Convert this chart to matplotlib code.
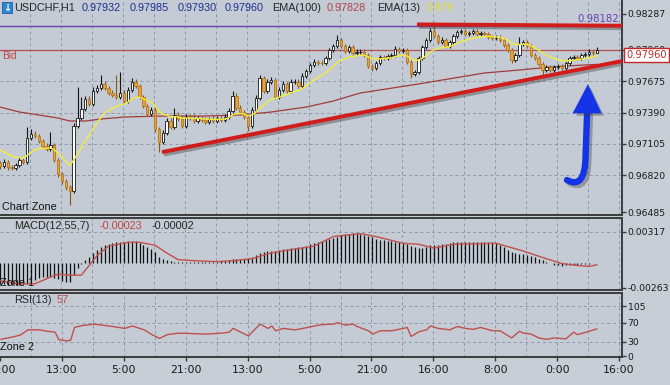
import numpy as np
import matplotlib
matplotlib.use("Agg")
import matplotlib.pyplot as plt
from matplotlib import font_manager
from matplotlib.patches import Rectangle, Polygon, PathPatch
from matplotlib.path import Path
import matplotlib.patheffects as pe
import matplotlib.transforms as mtransforms

# ---------------- data ----------------
symbol = "USDCHF,H1"
header_ohlc = ["0.97932", "0.97985", "0.97930", "0.97960"]
ema100_label = "0.97828"
ema13_label = "0.979"
macd_labels = ["-0.00023", "-0.00002"]
rsi_label = "57"

first_open = 0.96931
close = [
    0.96903, 0.96940, 0.96894, 0.96885, 0.96913, 0.96958, 0.96940, 0.97158, 0.97194, 0.97176,
    0.97131, 0.97085, 0.97058, 0.97094, 0.96958, 0.96831, 0.96767, 0.96712, 0.96676, 0.97268,
    0.97340, 0.97422, 0.97513, 0.97468, 0.97586, 0.97613, 0.97650, 0.97613, 0.97568, 0.97549,
    0.97531, 0.97568, 0.97495, 0.97595, 0.97668, 0.97631, 0.97531, 0.97449, 0.97377, 0.97413,
    0.97240, 0.97122, 0.97204, 0.97313, 0.97258, 0.97368, 0.97331, 0.97268, 0.97349, 0.97340,
    0.97313, 0.97340, 0.97322, 0.97304, 0.97331, 0.97313, 0.97340, 0.97322, 0.97349, 0.97404,
    0.97540, 0.97431, 0.97395, 0.97349, 0.97268, 0.97413, 0.97522, 0.97704, 0.97586, 0.97668,
    0.97686, 0.97531, 0.97595, 0.97650, 0.97586, 0.97668, 0.97672, 0.97631, 0.97722, 0.97768,
    0.97823, 0.97850, 0.97845, 0.97841, 0.97886, 0.97959, 0.97995, 0.98050, 0.97995, 0.97950,
    0.97986, 0.97932, 0.97941, 0.97945, 0.97913, 0.97813, 0.97795, 0.97841, 0.97895, 0.97890,
    0.97904, 0.97913, 0.97968, 0.97950, 0.97959, 0.97850, 0.97741, 0.97759, 0.97886, 0.97986,
    0.98050, 0.98132, 0.98086, 0.98032, 0.98050, 0.97995, 0.98032, 0.98086, 0.98123, 0.98132,
    0.98105, 0.98114, 0.98132, 0.98105, 0.98114, 0.98105, 0.98077, 0.98068, 0.98072, 0.98050,
    0.98005, 0.97959, 0.97868, 0.97913, 0.98014, 0.98032, 0.97995, 0.97913, 0.97886, 0.97832,
    0.97777, 0.97804, 0.97777, 0.97804, 0.97813, 0.97795, 0.97841, 0.97886, 0.97895, 0.97886,
    0.97913, 0.97923, 0.97941, 0.97932, 0.97960,
]
# wick lengths in pips (0.0001)
upper_wick = [
    2, 3, 2, 2, 2, 3, 2, 10, 5, 3,
    2, 2, 3, 12, 2, 2, 2, 2, 2, 3,
    28, 11, 3, 3, 4, 3, 8, 3, 2, 3,
    18, 19, 3, 3, 4, 3, 2, 2, 2, 3,
    3, 2, 3, 3, 3, 6, 3, 3, 3, 3,
    4, 2, 2, 3, 2, 4, 2, 2, 3, 3,
    5, 3, 3, 2, 2, 3, 3, 3, 2, 3,
    3, 2, 3, 3, 2, 3, 2, 2, 3, 2,
    2, 3, 2, 2, 2, 2, 2, 5, 2, 2,
    2, 2, 3, 2, 2, 2, 2, 2, 2, 2,
    2, 2, 3, 2, 2, 2, 2, 2, 2, 2,
    2, 3, 8, 2, 3, 2, 2, 2, 2, 2,
    2, 2, 2, 2, 2, 2, 2, 2, 2, 2,
    2, 2, 2, 2, 6, 2, 2, 2, 2, 2,
    2, 2, 2, 2, 2, 2, 2, 2, 2, 2,
    2, 2, 3, 2, 2.5,
]
lower_wick = [
    3, 2, 3, 2, 2, 2, 2, 2, 2, 2,
    2, 2, 2, 2, 2, 3, 3, 3, 13, 2,
    2, 2, 2, 2, 2, 2, 2, 2, 2, 2,
    2, 2, 2, 2, 2, 2, 2, 2, 2, 2,
    3, 9, 2, 2, 2, 2, 2, 2, 2, 2,
    2, 2, 2, 2, 2, 2, 2, 2, 2, 2,
    2, 2, 2, 2, 5, 2, 2, 2, 2, 2,
    2, 2, 2, 2, 2, 2, 2, 2, 2, 2,
    2, 2, 2, 2, 2, 2, 2, 2, 2, 2,
    2, 2, 2, 2, 2, 2, 3, 2, 2, 2,
    2, 2, 2, 2, 2, 2, 4, 2, 2, 2,
    2, 2, 2, 2, 2, 2, 2, 2, 2, 2,
    2, 2, 2, 2, 2, 2, 2, 2, 2, 2,
    2, 2, 3, 2, 2, 2, 2, 2, 2, 2,
    5, 2, 2, 2, 2, 2, 2, 2, 2, 2,
    2, 2, 2, 2, 0.2,
]
ema13_start = 0.97049
ema100_idx = [0, 5, 10, 15, 18, 22, 26, 32, 41, 52, 62, 70, 79, 86, 93, 108, 125, 134, 142, 151, 154]
ema100_val = [0.97440, 0.97395, 0.97368, 0.97340, 0.97313, 0.97313, 0.97331, 0.97349, 0.97358,
              0.97358, 0.97368, 0.97395, 0.97440, 0.97495, 0.97568, 0.97650, 0.97750, 0.97777,
              0.97804, 0.97823, 0.97828]
bid_price = 0.97960
hline_price = 0.98182
support_idx = [41.8, 160.5]
support_val = [0.97030, 0.97859]
resist_idx = [107.6, 160.5]
resist_val = [0.98192, 0.98180]

# MACD histogram (units of 0.0001)
macd_hist = [
    -22, -22, -23, -23, -23, -23, -22, -22, -21, -18,
    -16, -15, -15, -15, -16, -17, -19, -20, -20, -13,
    -6, -1, 3, 6, 10, 13, 16, 18, 19, 20,
    21, 21, 21, 22, 22, 22, 20, 18, 16, 14,
    11, 6, 4, 3, 2, 1, 1, 1, 1, 1,
    1, 1, 1, 1, 1, 1, 1, 2, 2, 3,
    4, 4, 4, 4, 5, 6, 8, 10, 11, 12,
    12, 12, 13, 14, 14, 15, 15, 16, 16, 17,
    19, 20, 21, 22, 23, 24, 25, 27, 29, 30,
    30, 31, 31, 30, 29, 28, 26, 24, 23, 23,
    22, 22, 21, 21, 20, 19, 17, 16, 15, 15,
    16, 18, 18, 18, 19, 19, 20, 21, 21, 21,
    21, 21, 21, 21, 21, 21, 21, 21, 20, 18,
    16, 13, 11, 10, 9, 9, 8, 7, 6, 4,
    3, 1, 0, -2, -3, -4, -3, -3, -2, -2,
    -1, -1, -1, 0, -0.2,
]
macd_sig_idx = [0, 5, 9, 13, 15, 18, 21, 22, 25, 28, 33, 36, 40, 43, 46, 50, 56, 60, 65, 70,
                76, 81, 86, 93, 97, 104, 108, 112, 117, 128, 135, 141, 145, 149, 152, 154]
macd_sig_val = [-19, -22, -22, -15, -12, -13, -13, -8, 7, 17, 21, 21, 18, 10, 3, 2, 1, 2, 4, 10,
                14, 17, 27, 30, 27, 20, 19, 15, 19, 20, 12, 4, -1, -3, -4, -2.3]

rsi_idx = [0, 3, 5, 7, 10, 12, 14, 15, 17, 18, 19, 21, 24, 26, 28, 32, 34, 37, 39, 41,
           43, 46, 50, 53, 57, 59, 60, 64, 65, 67, 69, 70, 71, 73, 76, 78, 81, 83, 86, 87,
           89, 91, 92, 95, 96, 98, 101, 104, 105, 106, 108, 110, 111, 113, 116, 118, 120, 122, 124, 127,
           129, 132, 134, 135, 137, 139, 141, 143, 146, 148, 149, 152, 154]
rsi_val = [35, 40, 44, 55, 55, 52, 50, 34, 32, 33, 60, 64, 67, 65, 63, 58, 63, 55, 45, 37,
           45, 48, 47, 46, 48, 50, 58, 42, 51, 67, 58, 63, 53, 58, 55, 58, 63, 66, 67, 70,
           65, 67, 62, 53, 46, 53, 53, 58, 60, 41, 51, 55, 63, 58, 55, 62, 58, 56, 60, 53,
           53, 38, 52, 48, 46, 38, 35, 38, 36, 50, 45, 52, 57]

main_ticks = [0.96485, 0.96820, 0.97105, 0.97390, 0.97675, 0.97960, 0.98287]
macd_ticks = [-0.00263, 0.00317]
rsi_ticks = [0, 30, 70, 105]
time_labels = ["21:00", "13:00", "5:00", "21:00", "13:00", "5:00", "21:00", "16:00", "8:00", "0:00", "16:00"]

# ---------------- style ----------------
names = {f.name for f in font_manager.fontManager.ttflist}
if "Liberation Sans Narrow" in names:
    NARROW, NSIZE = "Liberation Sans Narrow", 8.4
else:
    NARROW, NSIZE = "DejaVu Sans", 6.7
HEAD = "Liberation Sans" if "Liberation Sans" in names else "DejaVu Sans"
HSIZE = 7.8

W, H = 670, 385
BG = "#c4cbd4"
FIGBG = "#c8ced6"
GRID = "#8e99a8"
SPINE = "#3c3c3c"
PIP = 0.0001

fig = plt.figure(figsize=(W / 100, H / 100), dpi=100)
fig.patch.set_facecolor(FIGBG)


def box(l, t, r, b):
    return [l / W, 1 - b / H, (r - l) / W, (b - t) / H]


ax = fig.add_axes(box(0, 0, 622, 215))
axm = fig.add_axes(box(0, 218, 622, 290))
axr = fig.add_axes(box(0, 293, 622, 357))

XMAX = 160.5
grid_x = np.arange(-0.25, XMAX, 8.0)
label_x = np.arange(-0.25, XMAX + 1, 16.0)

for a in (ax, axm, axr):
    a.set_facecolor(BG)
    a.set_xlim(0, XMAX)
    for s in a.spines.values():
        s.set_color(SPINE)
        s.set_linewidth(1.4)
    a.spines["left"].set_visible(False)
    a.yaxis.tick_right()
    a.tick_params(axis="y", direction="out", length=3, width=1, colors=SPINE, labelcolor="#1a1a1a",
                  labelsize=NSIZE, pad=1.0)
    a.set_xticks([])
    for gx in grid_x[1:]:
        a.axvline(gx, color=GRID, lw=0.7, ls=(0, (3, 3)), zorder=0.5)
ax.spines["top"].set_visible(False)

# ---------------- main price panel ----------------
n = len(close)
idx = np.arange(n)
cl = np.array(close)
op = np.array([first_open] + close[:-1])
hi = np.maximum(op, cl) + np.array(upper_wick) * PIP
lo = np.minimum(op, cl) - np.array(lower_wick) * PIP
up = cl >= op
dn = ~up

ax.set_ylim(0.96458, 0.98414)
ax.set_yticks(main_ticks)
ax.set_yticklabels([f"{v:.5f}" for v in main_ticks], family=NARROW)
for v in main_ticks[1:-1]:
    ax.axhline(v, color=GRID, lw=0.7, ls=(0, (3, 3)), zorder=0.5)

ax.axhline(hline_price, color="#6b3fb2", lw=1.0, zorder=1)
ax.axhline(bid_price, color="#b35252", lw=0.9, zorder=1)

# EMA100 (read points) and EMA13 (computed from closes)
ax.plot(ema100_idx, ema100_val, color="#a23b3b", lw=0.9, zorder=2)

ax.vlines(idx[up], lo[up], hi[up], color="#151515", lw=0.8, zorder=3)
ax.vlines(idx[dn], lo[dn], hi[dn], color="#8c5a14", lw=0.8, zorder=3)
ax.bar(idx[up], np.maximum(cl - op, 2e-5)[up], bottom=op[up], width=0.62, color="white",
       edgecolor="#151515", linewidth=0.6, zorder=4)
ax.bar(idx[dn], np.maximum(op - cl, 2e-5)[dn], bottom=cl[dn], width=0.62, color="#e8a33a",
       edgecolor="#b67818", linewidth=0.6, zorder=4)

ema13 = np.empty(n)
ema13[0] = ema13_start
k = 2.0 / 14.0
for i in range(1, n):
    ema13[i] = ema13[i - 1] + k * (cl[i] - ema13[i - 1])
ax.plot(idx, ema13, color="#f2ee3c", lw=1.0, zorder=5)

shadow = [pe.SimpleLineShadow(offset=(1.5, -1.8), shadow_color="#4a4a4a", alpha=0.45), pe.Normal()]
ax.plot(support_idx, support_val, color="#d21c1c", lw=2.8, solid_capstyle="butt",
        path_effects=shadow, zorder=6)
ax.plot(resist_idx, resist_val, color="#d21c1c", lw=2.8, solid_capstyle="butt",
        path_effects=shadow, zorder=6)

ax.text(159.6, hline_price + 0.00016, f"{hline_price:.5f}", ha="right", va="bottom",
        color="#6b3fb2", family=NARROW, fontsize=NSIZE + 0.6, zorder=7)
ax.text(0.5, bid_price - 0.00012, "Bid", ha="left", va="top", color="#c04545",
        family=HEAD, fontsize=7.2, zorder=7)
ax.text(0.003, 0.015, "Chart Zone", transform=ax.transAxes, ha="left", va="bottom",
        color="#111111", family=HEAD, fontsize=HSIZE, zorder=7)

# current price tag
tr = mtransforms.blended_transform_factory(ax.transAxes, ax.transData)
ax.text(1.007, bid_price, f"{close[-1]:.5f}", transform=tr, ha="left", va="top",
        color="#c62828", family=NARROW, fontsize=NSIZE + 0.4, clip_on=False, zorder=10,
        bbox=dict(boxstyle="square,pad=0.22", fc="white", ec="#c62828", lw=1.0))

# blue arrow
arrow_shadow = [pe.SimplePatchShadow(offset=(2, -2), shadow_rgbFace="#333333", alpha=0.35), pe.Normal()]
shaft = Path([(146.3, 0.96776), (151.0, 0.96685), (151.1, 0.96994), (151.5, 0.97392)],
             [Path.MOVETO, Path.CURVE3, Path.CURVE3, Path.LINETO])
ax.add_patch(PathPatch(shaft, fill=False, ec="#1432e6", lw=4.6, capstyle="round",
                       path_effects=[pe.SimpleLineShadow(offset=(2, -2), shadow_color="#333333", alpha=0.35), pe.Normal()],
                       zorder=8))
ax.add_patch(Polygon([(147.9, 0.97386), (155.1, 0.97386), (151.7, 0.97641)], closed=True,
                     fc="#1432e6", ec="#1432e6", lw=0.5, path_effects=arrow_shadow, zorder=8))

# ---------------- MACD panel ----------------
mh = np.array(macd_hist) * PIP
axm.set_ylim(-0.00284, 0.00462)
axm.vlines(idx, 0, mh, color="#111111", lw=0.9, zorder=3)
axm.plot(macd_sig_idx, np.array(macd_sig_val) * PIP, color="#c0504d", lw=1.0, zorder=4)
axm.set_yticks(macd_ticks)
axm.set_yticklabels([f"{v:.5f}" for v in macd_ticks], family=NARROW)
axm.axhline(macd_ticks[1], color=GRID, lw=0.7, ls=(0, (3, 3)), zorder=0.5)
axm.text(0.0, 0.03, "Zone 1", transform=axm.transAxes, ha="left", va="bottom",
         color="#111111", family=HEAD, fontsize=HSIZE, zorder=7)

# ---------------- RSI panel ----------------
axr.set_ylim(-2.1, 132.4)
axr.plot(rsi_idx, rsi_val, color="#c0504d", lw=1.0, zorder=4)
axr.set_yticks(rsi_ticks)
axr.set_yticklabels([str(v) for v in rsi_ticks], family=NARROW)
for v in rsi_ticks[1:]:
    axr.axhline(v, color=GRID, lw=0.7, ls=(0, (3, 3)), zorder=0.5)
axr.text(0.0, 0.08, "Zone 2", transform=axr.transAxes, ha="left", va="bottom",
         color="#111111", family=HEAD, fontsize=HSIZE, zorder=7)

axr.set_xticks(label_x)
axr.set_xticklabels(time_labels, family=NARROW, fontsize=NSIZE + 1.2)
axr.tick_params(axis="x", direction="out", length=3, width=1, colors=SPINE, labelcolor="#1a1a1a", pad=3)

# ---------------- header texts ----------------
def ftext(px, py, s, color="#1a1a1a", size=HSIZE, family=HEAD):
    fig.text(px / W, 1 - py / H, s, ha="left", va="center", color=color, fontsize=size, family=family)

fig.patches.append(Rectangle((2 / W, 1 - 13 / H), 10 / W, 11 / H, transform=fig.transFigure,
                             fc="#2f86d6", ec="#1d5fa8", lw=0.6, figure=fig))
fig.text(7 / W, 1 - 7.5 / H, "\u2193", ha="center", va="center", color="white", fontsize=7,
         fontweight="bold", family="DejaVu Sans")
ftext(14, 8, symbol, "#262626")
for px, s in zip([82, 130, 178, 225], header_ohlc):
    ftext(px, 8, s, "#1d2f8f")
ftext(272, 8, "EMA(100)", "#262626")
ftext(327, 8, ema100_label, "#b04545")
ftext(377, 8, "EMA(13)", "#262626")
ftext(427, 8, ema13_label, "#e6e02e")

ftext(14, 226, "MACD(12,55,7)", "#262626")
ftext(100, 226, macd_labels[0], "#c04545")
ftext(152, 226, macd_labels[1], "#262626")
ftext(14, 300, "RSI(13)", "#262626")
ftext(57, 300, rsi_label, "#c04545")

fig.savefig("out.png", dpi=100, facecolor=fig.get_facecolor())
